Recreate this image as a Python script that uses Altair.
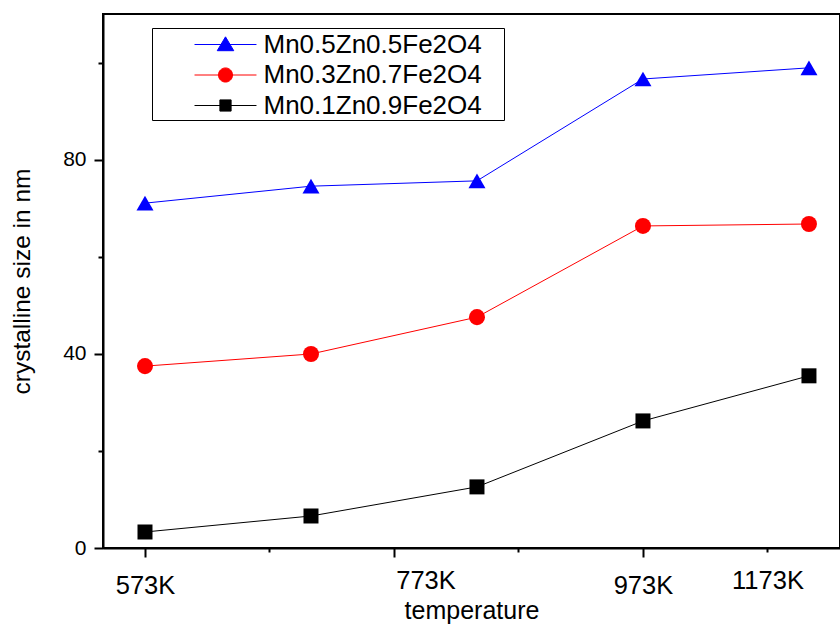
import altair as alt
import pandas as pd

# ---- data ----
x_index = [0, 1, 2, 3, 4]
series_names = ["Mn0.5Zn0.5Fe2O4", "Mn0.3Zn0.7Fe2O4", "Mn0.1Zn0.9Fe2O4"]
mn05 = [71.1, 74.6, 75.7, 96.7, 99.0]
mn03 = [37.5, 40.0, 47.6, 66.4, 66.8]
mn01 = [3.3, 6.6, 12.6, 26.2, 35.5]

x_tick_values = [0, 0.75, 1.5, 1.69, 2.25, 3, 3.75]
x_major = [0, 1.5, 3]
x_label_map = {0: "573K", 1.69: "773K", 3: "973K", 3.75: "1173K"}
y_tick_values = [0, 20, 40, 60, 80, 100]

colors = ["#0000ff", "#ff0000", "#000000"]
point_shapes = ["triangle-up", "circle", "square"]
point_sizes = [289, 225, 144]
# legend symbol: line + marker; trailing zero-length segment widens the legend box
legend_paths = [
    "M-2.1,0H2.1M0,-0.52L0.56,0.42L-0.56,0.42ZM18.65,0L18.65,0",
    "M-2.1,0H2.1M-0.48,0A0.48,0.48,0,1,1,0.48,0A0.48,0.48,0,1,1,-0.48,0ZM18.65,0L18.65,0",
    "M-2.1,0H2.1M-0.38,-0.38H0.38V0.38H-0.38ZM18.65,0L18.65,0",
]

rows = []
for name, vals in zip(series_names, [mn05, mn03, mn01]):
    for xi, v in zip(x_index, vals):
        rows.append({"x": xi, "value": v, "series": name})
df = pd.DataFrame(rows)

FONT = "Liberation Sans"

x_label_expr = " : ".join(
    [f"datum.value == {k} ? '{v}'" for k, v in x_label_map.items()]
) + " : ''"
x_major_test = " || ".join([f"datum.value == {v}" for v in x_major])

x_enc = alt.X(
    "x:Q",
    scale=alt.Scale(domain=[-0.253, 4.187], nice=False, zero=False),
    axis=alt.Axis(
        title="temperature",
        values=x_tick_values,
        labelExpr=x_label_expr,
        grid=False,
        domainColor="black",
        domainWidth=2,
        tickColor="black",
        tickWidth=2,
        tickSize={"condition": {"test": x_major_test, "value": 9}, "value": 4},
        tickOpacity={"condition": {"test": "datum.value == 1.69", "value": 0}, "value": 1},
        labelFont=FONT,
        labelFontSize=25.5,
        labelColor="black",
        labelPadding=16,
        labelFlush=False,
        labelOverlap=False,
        titleFont=FONT,
        titleFontSize=25,
        titleFontWeight="normal",
        titleColor="black",
        titlePadding=0,
    ),
)

y_enc = alt.Y(
    "value:Q",
    scale=alt.Scale(domain=[0, 110.1], nice=False),
    axis=alt.Axis(
        title="crystalline size in nm",
        values=y_tick_values,
        labelExpr="datum.value % 40 == 0 ? datum.label : ''",
        grid=False,
        domainColor="black",
        domainWidth=2,
        tickColor="black",
        tickWidth=2,
        tickSize={"condition": {"test": "datum.value % 40 == 0", "value": 9}, "value": 5},
        labelFont=FONT,
        labelFontSize=21,
        labelColor="black",
        labelPadding=8,
        labelOverlap=False,
        titleFont=FONT,
        titleFontSize=24.5,
        titleFontWeight="normal",
        titleColor="black",
        titlePadding=28,
    ),
)

color_scale = alt.Scale(domain=series_names, range=colors)

lines = alt.Chart(df).mark_line(strokeWidth=1).encode(
    x=x_enc,
    y=y_enc,
    color=alt.Color("series:N", scale=color_scale, legend=None),
)

points = alt.Chart(df).mark_point(filled=True, opacity=1).encode(
    x=x_enc,
    y=y_enc,
    color=alt.Color("series:N", scale=color_scale, legend=None),
    shape=alt.Shape("series:N", scale=alt.Scale(domain=series_names, range=point_shapes), legend=None),
    size=alt.Size("series:N", scale=alt.Scale(domain=series_names, range=point_sizes), legend=None),
)

legend_props = dict(
    title=None,
    orient="none",
    legendX=49,
    legendY=14,
    padding=1,
    strokeColor="black",
    fillColor="white",
    rowPadding=1.5,
    symbolOffset=57,
    labelOffset=22.5,
    labelFont=FONT,
    labelFontSize=26,
    labelColor="black",
    labelLimit=0,
    symbolSize=870,
    symbolStrokeWidth=1,
)

legend_layer = alt.Chart(df).transform_filter("false").mark_point(
    filled=True, opacity=1, size=870, strokeWidth=1
).encode(
    color=alt.Color("series:N", scale=color_scale, legend=alt.Legend(**legend_props)),
    stroke=alt.Stroke("series:N", scale=color_scale, legend=alt.Legend(**legend_props)),
    shape=alt.Shape(
        "series:N",
        scale=alt.Scale(domain=series_names, range=legend_paths),
        legend=alt.Legend(**legend_props),
    ),
)

chart = (
    alt.layer(lines, points, legend_layer)
    .resolve_scale(color="independent", shape="independent", stroke="independent")
    .properties(
        width=737,
        height=534,
        padding={"left": 103, "top": 14, "right": 0, "bottom": 77},
        autosize=alt.AutoSizeParams(type="none"),
        background="white",
    )
    .configure_view(stroke="black", strokeWidth=2)
)

chart.save("out.html", embed_options={"renderer": "svg", "actions": False})
